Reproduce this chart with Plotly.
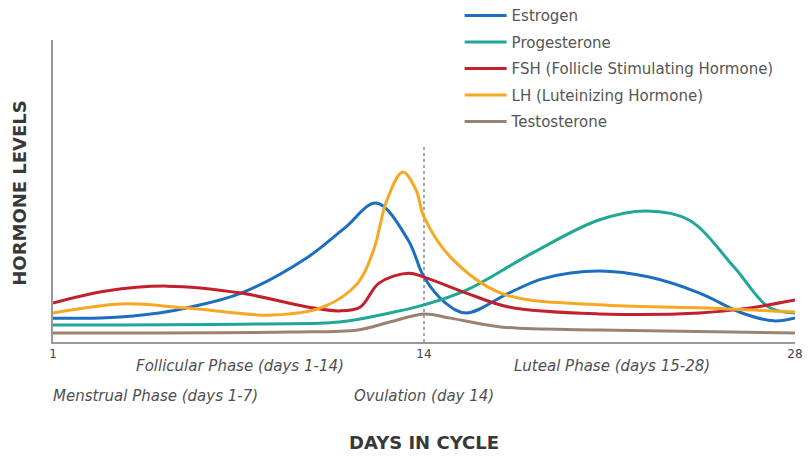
import plotly.graph_objects as go

# ---- data (x = position in cycle, axis runs 0..28, labelled 1 / 14 / 28) ----
tick_vals = [0, 14, 28]
tick_text = ["1", "14", "28"]
ovulation_day = 14
ovulation_line_top = 65

estrogen_x = [0, 2, 4, 5.2, 7.1, 9.6, 11, 12.2, 13.4, 14, 14.8, 15.6, 17.2, 18.5, 20.6, 22.5, 24.4, 26, 27.2, 28]
estrogen_y = [7.9, 8, 9.6, 11.6, 16.2, 28, 37.7, 46, 33.8, 21.5, 13, 9.6, 16.2, 21, 23.5, 21.5, 16.2, 9.6, 7, 8]

progesterone_x = [0, 8, 10.8, 12.7, 14, 15.6, 18.1, 20.6, 22.4, 24, 25.7, 27, 28]
progesterone_y = [5.6, 6, 6.6, 9.6, 12.3, 17.2, 29.5, 40.4, 43.4, 40.4, 24.8, 11.6, 9.6]

fsh_x = [0, 2, 4.3, 7.1, 9.6, 10.8, 11.6, 12.3, 13.4, 14, 15.6, 17.2, 20.6, 24.4, 26.3, 28]
fsh_y = [12.9, 16.9, 18.5, 16.2, 11.6, 10.3, 11.6, 19.5, 22.8, 21.5, 16.2, 11.6, 9.3, 9.6, 11.3, 13.9]

lh_x = [0, 2.6, 5, 8.3, 10.2, 11.5, 12.1, 12.6, 13.2, 13.7, 14, 15, 16.9, 20.6, 24.4, 28]
lh_y = [9.6, 12.6, 11.3, 8.9, 11.6, 19.5, 30.5, 47, 56.3, 50.3, 41.4, 28.1, 16.2, 12.3, 11.3, 9.9]

testosterone_x = [0, 9, 11.5, 12.7, 14, 15, 16.9, 20.6, 28]
testosterone_y = [3, 3.3, 4, 6.6, 9.3, 7.9, 5, 4, 3]

series = [
    ("Estrogen", estrogen_x, estrogen_y, "#1c6fc0"),
    ("Progesterone", progesterone_x, progesterone_y, "#1fa797"),
    ("FSH (Follicle Stimulating Hormone)", fsh_x, fsh_y, "#c1202d"),
    ("LH (Luteinizing Hormone)", lh_x, lh_y, "#f7a823"),
    ("Testosterone", testosterone_x, testosterone_y, "#9a8270"),
]

fig = go.Figure()
for i, (name, xs, ys, col) in enumerate(series):
    fig.add_trace(go.Scatter(
        x=xs, y=ys, name=name, mode="lines", legendgroup=f"g{i}",
        line=dict(color=col, width=3, shape="spline", smoothing=1.0),
    ))

fig.add_shape(type="line", x0=ovulation_day, x1=ovulation_day, y0=0, y1=ovulation_line_top,
              xref="x", yref="y", line=dict(color="#888888", width=1.5, dash="dot"), layer="below")

txt_font = dict(family="DejaVu Sans", size=15, color="#505050", style="italic")
fig.add_annotation(text="Follicular Phase (days 1-14)", xref="paper", yref="paper",
                   x=0.252, y=-0.079, showarrow=False, xanchor="center", yanchor="middle", font=txt_font)
fig.add_annotation(text="Luteal Phase (days 15-28)", xref="paper", yref="paper",
                   x=0.753, y=-0.079, showarrow=False, xanchor="center", yanchor="middle", font=txt_font)
fig.add_annotation(text="Menstrual Phase (days 1-7)", xref="paper", yref="paper",
                   x=-0.003, y=-0.179, showarrow=False, xanchor="left", yanchor="middle", font=txt_font)
fig.add_annotation(text="Ovulation (day 14)", xref="paper", yref="paper",
                   x=0.403, y=-0.179, showarrow=False, xanchor="left", yanchor="middle", font=txt_font)
title_font = dict(family="DejaVu Sans", size=18, color="#383838", weight="bold")
fig.add_annotation(text="DAYS IN CYCLE", xref="paper", yref="paper",
                   x=0.5, y=-0.334, showarrow=False, xanchor="center", yanchor="middle", font=title_font)
fig.add_annotation(text="HORMONE LEVELS", xref="paper", yref="paper", textangle=-90,
                   x=-0.045, y=0.493, showarrow=False, xanchor="center", yanchor="middle", font=title_font)

fig.update_layout(
    width=808, height=457,
    margin=dict(l=53, r=13, t=40, b=115, autoexpand=False),
    paper_bgcolor="white", plot_bgcolor="white",
    font=dict(family="DejaVu Sans", color="#555555"),
    showlegend=True,
    legend=dict(x=0.548, y=1.135, xanchor="left", yanchor="top",
                font=dict(family="DejaVu Sans", size=15, color="#555555"),
                bgcolor="rgba(0,0,0,0)", tracegroupgap=4, traceorder="grouped",
                itemwidth=42),
    xaxis=dict(range=[0, 28], tickvals=tick_vals, ticktext=tick_text, showgrid=False, zeroline=False,
               showline=True, linecolor="#999999", linewidth=1.5, ticks="", automargin=False,
               tickfont=dict(family="DejaVu Sans", size=12, color="#444444")),
    yaxis=dict(range=[0, 100], showgrid=False, zeroline=False, showticklabels=False, automargin=False,
               showline=True, linecolor="#999999", linewidth=1.5, ticks=""),
)

fig.write_html("out.html", config={"displayModeBar": False},
               post_script="document.body.style.margin='0px';document.body.style.overflow='hidden';")
